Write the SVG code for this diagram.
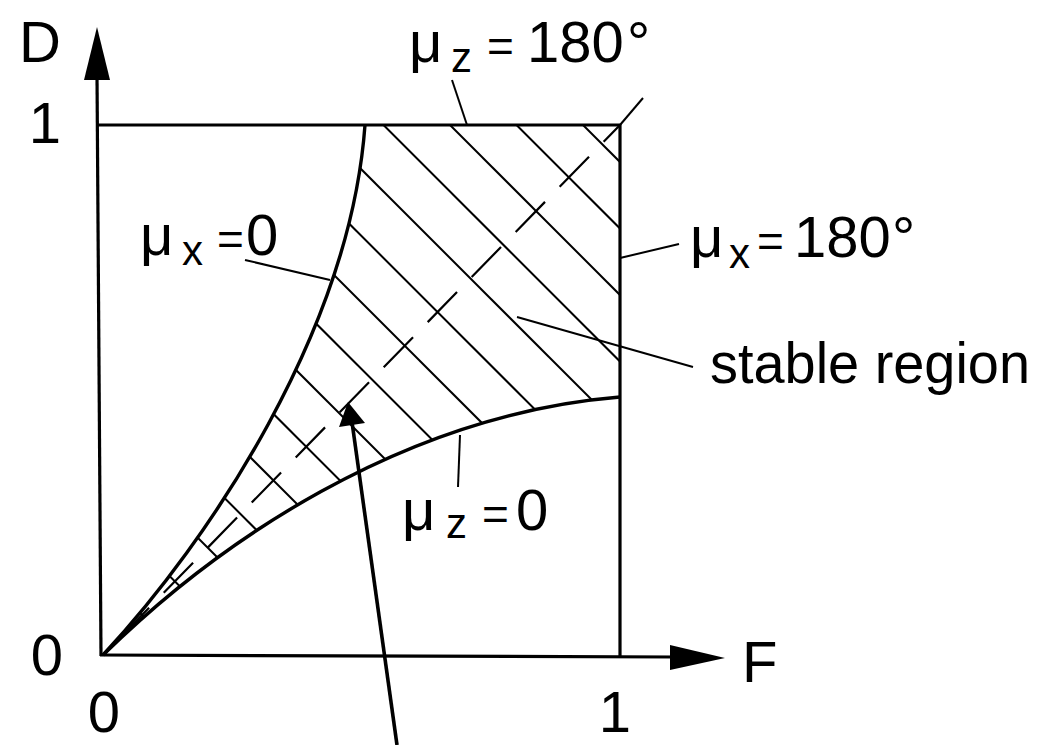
<svg xmlns="http://www.w3.org/2000/svg" width="1043" height="745" viewBox="0 0 1043 745">
<style>
  .t { font-family: "Liberation Sans", Arial, sans-serif; font-size: 58px; fill: #000; }
  .sub { font-size: 42px; }
  .eq { font-size: 46px; }
  .ax { stroke: #000; stroke-width: 3.2; fill: none; }
  .cv { stroke: #000; stroke-width: 3.4; fill: none; }
  .hatch { stroke: #000; stroke-width: 2; }
  .lead { stroke: #000; stroke-width: 2; fill: none; }
  .dash { stroke: #000; stroke-width: 2.2; stroke-dasharray: 42 21; stroke-dashoffset: 39; fill: none; }
</style>
<defs>
  <clipPath id="region">
    <path d="M103,655 C210,540 350,330 365,125 L620,125 L620,397 C400,415 215,545 103,655 Z"/>
  </clipPath>
</defs>
<rect width="1043" height="745" fill="#fff"/>

<g id="hatching" clip-path="url(#region)">
  <line class="hatch" x1="100" y1="-358" x2="720" y2="262"/>
  <line class="hatch" x1="100" y1="-291.5" x2="720" y2="328.5"/>
  <line class="hatch" x1="100" y1="-225" x2="720" y2="395"/>
  <line class="hatch" x1="100" y1="-158.5" x2="720" y2="461.5"/>
  <line class="hatch" x1="100" y1="-92" x2="720" y2="528"/>
  <line class="hatch" x1="100" y1="-25.5" x2="720" y2="594.5"/>
  <line class="hatch" x1="100" y1="41" x2="720" y2="661"/>
  <line class="hatch" x1="100" y1="107.5" x2="720" y2="727.5"/>
  <line class="hatch" x1="100" y1="174" x2="720" y2="794"/>
  <line class="hatch" x1="100" y1="240.5" x2="720" y2="860.5"/>
  <line class="hatch" x1="100" y1="307" x2="720" y2="927"/>
  <line class="hatch" x1="100" y1="373.5" x2="720" y2="993.5"/>
  <line class="hatch" x1="100" y1="440" x2="720" y2="1060"/>
  <line class="hatch" x1="100" y1="506.5" x2="720" y2="1126.5"/>
  <line class="hatch" x1="100" y1="573" x2="720" y2="1193"/>
  <line class="hatch" x1="100" y1="639.5" x2="720" y2="1259.5"/>
</g>

<g id="diagonal">
  <line class="dash" x1="103" y1="655" x2="620" y2="125"/>
</g>

<g id="axes">
  <line class="ax" x1="101" y1="656" x2="97" y2="75"/>
  <polygon points="97,27 84,80 110,80" fill="#000"/>
  <line class="ax" x1="100" y1="655" x2="675" y2="657"/>
  <polygon points="725,658 670,645 670,670" fill="#000"/>
</g>

<g id="box">
  <line class="ax" x1="97" y1="125" x2="621" y2="125"/>
  <line class="ax" x1="620" y1="124" x2="620" y2="656"/>
</g>

<g id="curve-mux0">
  <path class="cv" d="M103,655 C210,540 350,330 365,125"/>
</g>
<g id="curve-muz0">
  <path class="cv" d="M103,655 C215,545 400,415 620,397"/>
</g>

<g id="connectors">
  <line class="lead" x1="452" y1="80" x2="467" y2="125"/>
  <line class="lead" x1="620" y1="125" x2="643" y2="98"/>
  <line class="lead" x1="620" y1="258" x2="679" y2="244"/>
  <line class="lead" x1="517" y1="317" x2="693" y2="367"/>
  <line class="lead" x1="245" y1="260" x2="330" y2="280"/>
  <line class="lead" x1="460" y1="435" x2="458" y2="487"/>
  <line x1="397" y1="745" x2="352" y2="422" stroke="#000" stroke-width="3.6"/>
  <polygon points="348,402 339,427 365,423" fill="#000"/>
</g>

<g id="label-D"><text class="t" x="19" y="62">D</text></g>
<g id="label-1y"><text class="t" x="45" y="143" text-anchor="middle">1</text></g>
<g id="label-0y"><text class="t" x="47" y="675" text-anchor="middle">0</text></g>
<g id="label-0x"><text class="t" x="104" y="732" font-size="56" text-anchor="middle">0</text></g>
<g id="label-1x"><text class="t" x="615" y="732" font-size="56" text-anchor="middle">1</text></g>
<g id="label-F"><text class="t" x="742" y="682">F</text></g>

<g id="label-muz180">
  <text class="t" y="62"><tspan x="409">μ</tspan><tspan class="sub" x="451" y="72">z</tspan><tspan class="eq" x="487" y="62">=</tspan><tspan x="527">180</tspan><tspan x="627">°</tspan></text>
</g>
<g id="label-mux180">
  <text class="t" y="257"><tspan x="690">μ</tspan><tspan class="sub" x="729" y="268">x</tspan><tspan class="eq" x="757" y="257">=</tspan><tspan x="794">180</tspan><tspan x="892">°</tspan></text>
</g>
<g id="label-mux0">
  <text class="t" y="255"><tspan x="140">μ</tspan><tspan class="sub" x="182" y="265">x</tspan><tspan class="eq" x="217" y="255">=</tspan><tspan x="246">0</tspan></text>
</g>
<g id="label-muz0">
  <text class="t" y="530"><tspan x="402">μ</tspan><tspan class="sub" x="446" y="538">z</tspan><tspan class="eq" x="482" y="530">=</tspan><tspan x="516">0</tspan></text>
</g>
<g id="label-stable">
  <text class="t" x="710" y="383" font-size="55" textLength="320" lengthAdjust="spacingAndGlyphs">stable region</text>
</g>
</svg>
